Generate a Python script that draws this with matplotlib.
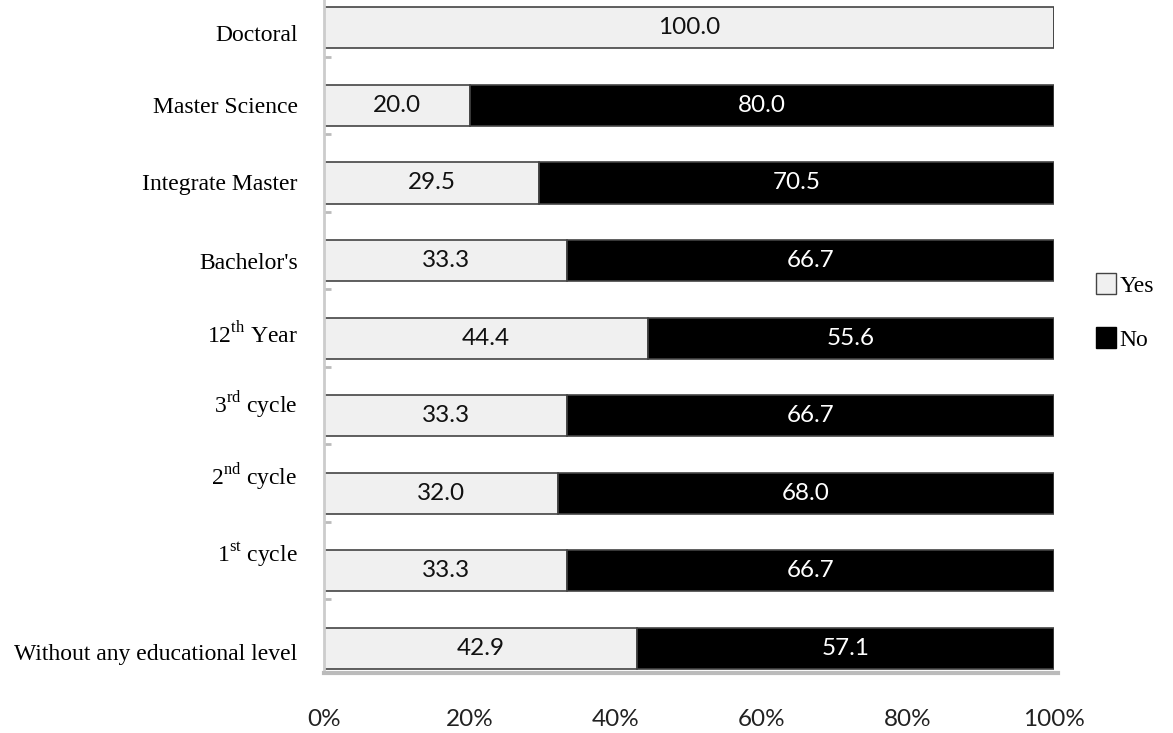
import matplotlib
matplotlib.use("Agg")
import matplotlib.pyplot as plt
import matplotlib.transforms as mtransforms
from matplotlib.patches import Patch

# education levels, bottom to top
levels = ["Without any educational level", r"1$^{\mathrm{st}}$ cycle",
          r"2$^{\mathrm{nd}}$ cycle", r"3$^{\mathrm{rd}}$ cycle",
          r"12$^{\mathrm{th}}$ Year", "Bachelor's", "Integrate Master",
          "Master Science", "Doctoral"]
yes_pct = [42.9, 33.3, 32.0, 33.3, 44.4, 33.3, 29.5, 20.0, 100.0]
no_pct = [57.1, 66.7, 68.0, 66.7, 55.6, 66.7, 70.5, 80.0, 0.0]
xticks = [0, 20, 40, 60, 80, 100]

# small vertical nudges (points) for the category labels
label_shift = [-3, 14, 14, 10, 4, 0, 1, 0, -4]

plt.rcParams["mathtext.fontset"] = "custom"
plt.rcParams["mathtext.rm"] = "Liberation Serif"
serif = "Liberation Serif"
narrow = ["Lato", "DejaVu Sans"]

fig = plt.figure(figsize=(11.73, 7.33), dpi=100)
ax = fig.add_axes([324 / 1173, 60 / 733, 730 / 1173, 673 / 733])

pos = list(range(len(levels)))
h = 0.53
ax.barh(pos, yes_pct, height=h, color="#f0f0f0", edgecolor="#444444", linewidth=1.2)
ax.barh(pos, no_pct, left=yes_pct, height=h, color="black", edgecolor="#444444", linewidth=1.2)

for y, a, b in zip(pos, yes_pct, no_pct):
    ax.text(a / 2, y, f"{a:.1f}", ha="center", va="center", fontsize=17.5,
            family=narrow, color="#111111")
    if b > 0:
        ax.text(a + b / 2, y, f"{b:.1f}", ha="center", va="center", fontsize=17.5,
                family=narrow, color="white")

ax.set_xlim(0, 100)
ax.set_ylim(-0.32, 8.36)
ax.set_xticks(xticks)
ax.set_xticklabels([f"{t}%" for t in xticks], family=narrow, fontsize=17.5, color="#222222")
ax.set_yticks(pos)
ax.set_yticklabels(levels, family=serif, fontsize=17)
ax.tick_params(axis="y", length=0, pad=19)
ax.tick_params(axis="x", length=0, pad=26)
ax.set_yticks([p - 0.37 for p in pos[1:]], minor=True)
ax.tick_params(axis="y", which="minor", direction="in", length=5, color="#bbbbbb", width=2)

for lab, dy in zip(ax.get_yticklabels(), label_shift):
    lab.set_transform(lab.get_transform() +
                      mtransforms.ScaledTranslation(0, dy / 72, fig.dpi_scale_trans))

for s in ["top", "right"]:
    ax.spines[s].set_visible(False)
ax.spines["left"].set_color("#cccccc")
ax.spines["left"].set_linewidth(2)
ax.spines["bottom"].set_color("#bbbbbb")
ax.spines["bottom"].set_linewidth(3)
ax.spines["bottom"].set_bounds(0, 100.5)

handles = [Patch(facecolor="#f0f0f0", edgecolor="#444444", label="Yes"),
           Patch(facecolor="black", edgecolor="black", label="No")]
fig.legend(handles=handles, loc="center left", bbox_to_anchor=(1096 / 1173, 1 - 312 / 733),
           frameon=False, prop={"family": serif, "size": 17}, handlelength=0.85,
           handleheight=0.95, labelspacing=1.3, handletextpad=0.15, borderpad=0,
           borderaxespad=0)

fig.savefig("out.png", dpi=100)
